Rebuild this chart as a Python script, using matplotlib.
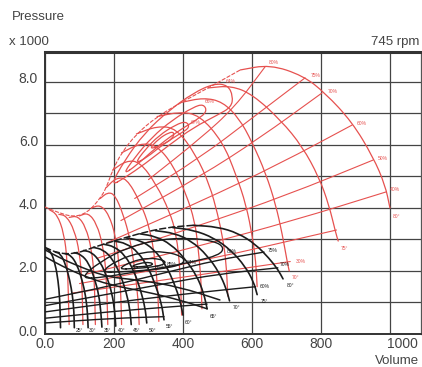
import numpy as np
import matplotlib
matplotlib.use('Agg')
import matplotlib.pyplot as plt
from matplotlib.transforms import ScaledTranslation
from matplotlib.path import Path
from matplotlib.patches import PathPatch

plt.rcParams['font.family'] = ['Liberation Sans', 'DejaVu Sans']

RED = '#e6514f'
BLACK = '#1c1c1c'

# ---- red family (upper, large fan) : blade angle curves (volume, pressure)
red_arcs = [
    [(566, 8.38), (652, 8.55), (748, 8.2), (812, 7.65), (890, 6.73), (951, 5.62), (986, 4.73), (1000, 4.0)],
    [(473, 7.81), (540, 7.88), (602, 7.6), (684, 6.78), (746, 5.95), (794, 4.98), (823, 4.1), (843, 3.2), (850, 2.95)],
    [(395, 7.35), (460, 7.5), (515, 7.37), (563, 6.84), (600, 6.1), (640, 5.1), (669, 4.1), (688, 3.16), (702, 2.3), (708, 2.0)],
    [(325, 6.9), (390, 7.05), (448, 6.95), (515, 6.1), (554, 5.05), (583, 4.1), (602, 3.05), (611, 2.3), (615, 1.5)],
    [(265, 6.35), (325, 6.6), (381, 6.53), (438, 5.68), (477, 4.74), (501, 3.79), (515, 3.05), (525, 2.3), (530, 1.2)],
    [(222, 5.75), (275, 6.05), (323, 6.0), (371, 5.37), (410, 4.42), (434, 3.58), (443, 2.84), (452, 1.8), (455, 0.8)],
    [(196, 5.2), (235, 5.5), (275, 5.47), (323, 4.74), (361, 3.89), (381, 3.16), (392, 2.0), (396, 0.6)],
    [(178, 4.65), (205, 4.95), (236, 4.95), (275, 4.21), (304, 3.37), (320, 2.3), (328, 1.2), (330, 0.4)],
    [(160, 4.3), (182, 4.5), (203, 4.42), (227, 3.79), (246, 3.05), (260, 2.1), (270, 1.1), (273, 0.3)],
    [(135, 4.0), (160, 4.1), (185, 3.8), (205, 3.1), (215, 2.2), (220, 1.2), (222, 0.3)],
    [(100, 3.75), (125, 3.85), (150, 3.5), (168, 2.8), (178, 1.9), (182, 0.3)],
    [(70, 3.7), (95, 3.75), (118, 3.4), (135, 2.7), (143, 1.8), (146, 0.3)],
    [(40, 3.8), (62, 3.75), (85, 3.3), (100, 2.6), (107, 1.7), (110, 0.3)],
    [(12, 3.95), (35, 3.8), (55, 3.2), (65, 2.3), (70, 0.3)],
]
red_arc_labels = ['80°', '75°', '70°']
red_arc_label_pos = [(1008, 3.72), (856, 2.72), (716, 1.78)]

red_stall = [(0, 4.03), (35, 3.87), (81, 3.71), (122, 3.84), (160, 4.3), (178, 4.65), (196, 5.2),
             (222, 5.75), (265, 6.35), (325, 6.9), (395, 7.35), (473, 7.81), (566, 8.38)]

red_lines = [
    [(300, 4.9), (450, 6.2), (550, 7.2), (638, 8.48)],
    [(260, 4.3), (450, 5.6), (600, 6.85), (754, 8.13)],
    [(220, 3.6), (450, 5.0), (620, 6.2), (803, 7.65)],
    [(180, 2.9), (450, 4.2), (680, 5.4), (890, 6.63)],
    [(150, 2.4), (450, 3.45), (700, 4.4), (951, 5.52)],
    [(120, 1.9), (450, 2.8), (720, 3.6), (989, 4.51)],
    [(100, 1.6), (450, 2.3), (845, 3.3)],
    [(80, 1.3), (430, 1.85), (711, 2.3)],
]
red_line_labels = ['80%', '75%', '70%', '60%', '50%', '40%', '', '30%']
red_line_label_pos = [(650, 8.62), (770, 8.2), (820, 7.7), (905, 6.68), (965, 5.58), (1000, 4.58), (0, 0), (728, 2.3)]

red_loops = [
    [(190, 4.7), (230, 5.5), (290, 6.4), (360, 7.1), (430, 7.65), (490, 7.95), (530, 7.9), (545, 7.55),
     (540, 7.2), (500, 6.95), (430, 6.55), (360, 6.0), (290, 5.4), (230, 4.95), (190, 4.7)],
    [(225, 5.05), (260, 5.6), (310, 6.25), (370, 6.8), (430, 7.2), (460, 7.3), (470, 7.05), (440, 6.8),
     (380, 6.4), (320, 5.9), (265, 5.35), (225, 5.05)],
    [(260, 5.4), (290, 5.85), (330, 6.3), (380, 6.65), (410, 6.75), (420, 6.55), (390, 6.35), (340, 6.0),
     (295, 5.6), (260, 5.4)],
    [(300, 5.85), (330, 6.2), (360, 6.4), (375, 6.4), (370, 6.2), (340, 6.0), (300, 5.85)],
]
red_loop_labels = ['64%', '66%', '67%']
red_loop_label_pos = [(525, 8.0), (462, 7.38), (422, 6.72)]

# ---- black family (lower, small fan)
black_arcs = [
    [(430, 3.45), (500, 3.4), (560, 3.2), (610, 2.85), (650, 2.4), (675, 2.05), (690, 1.75)],
    [(370, 3.38), (430, 3.3), (490, 3.05), (540, 2.65), (580, 2.15), (605, 1.65), (615, 1.25)],
    [(320, 3.28), (375, 3.2), (425, 2.95), (470, 2.5), (505, 1.95), (525, 1.45), (535, 1.05)],
    [(275, 3.18), (320, 3.1), (365, 2.85), (405, 2.4), (440, 1.85), (460, 1.3), (470, 0.8)],
    [(235, 3.05), (275, 2.98), (315, 2.7), (350, 2.2), (375, 1.6), (392, 1.05), (400, 0.6)],
    [(200, 2.95), (235, 2.88), (270, 2.6), (300, 2.1), (322, 1.5), (338, 0.95), (345, 0.45)],
    [(170, 2.85), (200, 2.78), (232, 2.5), (258, 2.0), (277, 1.4), (290, 0.85), (295, 0.35)],
    [(140, 2.75), (168, 2.68), (195, 2.4), (218, 1.9), (235, 1.35), (246, 0.8), (250, 0.3)],
    [(112, 2.65), (135, 2.6), (160, 2.3), (180, 1.8), (194, 1.3), (202, 0.75), (205, 0.25)],
    [(85, 2.58), (105, 2.52), (127, 2.25), (144, 1.75), (156, 1.25), (162, 0.7), (165, 0.22)],
    [(58, 2.55), (75, 2.5), (93, 2.2), (108, 1.7), (118, 1.2), (123, 0.7), (125, 0.2)],
    [(30, 2.6), (45, 2.55), (60, 2.2), (72, 1.7), (80, 1.2), (84, 0.7), (85, 0.2)],
    [(5, 2.7), (18, 2.6), (30, 2.2), (38, 1.7), (43, 1.1), (45, 0.2)],
]
black_arc_labels = ['80°', '75°', '70°', '65°', '60°', '55°', '50°', '45°', '40°', '35°', '30°', '25°']
black_arc_label_pos = [(700, 1.55), (625, 1.02), (545, 0.85), (478, 0.55), (405, 0.38), (350, 0.24),
                       (300, 0.12), (255, 0.12), (210, 0.12), (170, 0.12), (128, 0.12), (88, 0.12)]

black_stall = [(0, 2.75), (40, 2.55), (90, 2.55), (140, 2.75), (200, 2.95), (270, 3.18), (350, 3.38), (430, 3.45)]

# curves leaving the pressure axis and falling to the right
black_falls = [
    [(0, 2.67), (44, 2.41), (102, 2.13), (180, 1.81), (275, 1.71), (391, 1.49), (507, 1.08)],
    [(0, 2.45), (50, 2.15), (110, 1.85), (190, 1.55), (290, 1.35), (400, 1.05), (470, 0.8)],
]

black_lines = [
    [(0, 1.1), (200, 1.55), (350, 1.95), (500, 2.35), (635, 2.6)],
    [(0, 0.9), (200, 1.3), (350, 1.6), (500, 1.9), (675, 2.1)],
    [(0, 0.7), (200, 1.0), (350, 1.2), (500, 1.38), (610, 1.5)],
    [(0, 0.5), (200, 0.72), (350, 0.85), (470, 0.95)],
    [(0, 0.35), (200, 0.5), (345, 0.55)],
]
black_line_labels = ['75%', '70%', '60%', '', '']
black_line_label_pos = [(645, 2.66), (680, 2.2), (622, 1.5), (0, 0), (0, 0)]

black_loops = [
    [(100, 1.75), (160, 2.3), (240, 2.75), (330, 3.0), (420, 3.05), (490, 2.95), (520, 2.75), (505, 2.5),
     (430, 2.3), (340, 2.1), (250, 1.95), (170, 1.8), (100, 1.75)],
    [(160, 1.95), (210, 2.35), (280, 2.6), (350, 2.62), (400, 2.45), (405, 2.25), (360, 2.1), (290, 2.02),
     (220, 1.97), (160, 1.95)],
    [(210, 2.05), (250, 2.3), (300, 2.42), (345, 2.35), (350, 2.22), (310, 2.12), (260, 2.08), (210, 2.05)],
    [(245, 2.12), (275, 2.25), (305, 2.28), (315, 2.2), (290, 2.14), (245, 2.12)],
]
black_loop_labels = ['80%', '84%', '85%', '86%']
black_loop_label_pos = [(528, 2.62), (410, 2.28), (352, 2.2), (318, 2.1)]

x_ticks = [0, 200, 400, 600, 800, 1000]
x_tick_labels = ['0.0', '200', '400', '600', '800', '1000']
y_ticks = [0, 1, 2, 3, 4, 5, 6, 7, 8]
y_tick_labels = ['0.0', '', '2.0', '', '4.0', '', '6.0', '', '8.0']

fig = plt.figure(figsize=(4.22, 3.67), dpi=100)
ax = fig.add_axes([45 / 422, 1 - 334 / 367, (421 - 45) / 422, (334 - 52) / 367])
ax.set_xlim(0, 1090)
ax.set_ylim(0, 8.95)


def smooth(pts, closed=False):
    # quadratic bezier through the midpoints, the read points act as control points
    p = np.asarray(pts, float)
    if closed:
        p = p[:-1]
        mids = (p + np.roll(p, -1, axis=0)) / 2
        verts = [mids[-1]]
        codes = [Path.MOVETO]
        for i in range(len(p)):
            verts += [p[i], mids[i]]
            codes += [Path.CURVE3, Path.CURVE3]
        return Path(verts, codes)
    mids = (p[:-1] + p[1:]) / 2
    verts = [p[0], mids[0]]
    codes = [Path.MOVETO, Path.LINETO]
    for i in range(1, len(p) - 1):
        verts += [p[i], mids[i]]
        codes += [Path.CURVE3, Path.CURVE3]
    verts.append(p[-1])
    codes.append(Path.LINETO)
    return Path(verts, codes)


def draw(curves, color, lw, ls='-', closed=False):
    for c in curves:
        ax.add_patch(PathPatch(smooth(c, closed), fill=False, edgecolor=color, lw=lw,
                               ls=ls, capstyle='round', zorder=3))


def labels(texts, pos, color):
    for t, (v, p) in zip(texts, pos):
        if t:
            ax.text(v, p, t, color=color, fontsize=3.6, ha='left', va='center', zorder=5)


draw(red_arcs, RED, 0.9)
draw(red_lines, RED, 0.8)
draw(red_loops, RED, 0.9, closed=True)
draw([red_stall], RED, 0.8, ls=(0, (3, 2)))
labels(red_arc_labels, red_arc_label_pos, RED)
labels(red_line_labels, red_line_label_pos, RED)
labels(red_loop_labels, red_loop_label_pos, RED)

draw(black_arcs, BLACK, 1.2)
draw(black_falls, BLACK, 1.1)
draw(black_lines, BLACK, 1.0)
draw(black_loops, BLACK, 1.0, closed=True)
draw([black_stall], BLACK, 1.1, ls=(0, (4, 2)))
labels(black_arc_labels, black_arc_label_pos, BLACK)
labels(black_line_labels, black_line_label_pos, BLACK)
labels(black_loop_labels, black_loop_label_pos, BLACK)

ax.set_xticks(x_ticks)
ax.set_xticklabels(x_tick_labels)
ax.set_yticks(y_ticks)
ax.set_yticklabels(y_tick_labels)
ax.tick_params(length=0, labelsize=10, labelcolor='#444')
ax.tick_params(axis='x', pad=2)
ax.tick_params(axis='y', pad=5)
for lab in ax.get_yticklabels():
    lab.set_transform(lab.get_transform() + ScaledTranslation(0, 0.04, fig.dpi_scale_trans))
# the last volume label sits a little right of its grid line
ax.get_xticklabels()[-1].set_transform(ax.get_xticklabels()[-1].get_transform()
                                       + ScaledTranslation(0.12, 0, fig.dpi_scale_trans))
ax.grid(True, color='#444444', lw=0.9, zorder=1)
ax.set_axisbelow(True)
for side in ['left', 'bottom']:
    ax.spines[side].set_color('#333333')
    ax.spines[side].set_linewidth(1.4)
ax.spines['top'].set_color('#333333')
ax.spines['top'].set_linewidth(2.2)
ax.spines['right'].set_color('#555555')
ax.spines['right'].set_linewidth(0.9)

fig.text(12 / 422, 1 - 17 / 367, 'Pressure', fontsize=9.5, color='#444', va='center', ha='left')
fig.text(9 / 422, 1 - 42 / 367, 'x 1000', fontsize=9.5, color='#444', va='center', ha='left')
fig.text(419 / 422, 1 - 42 / 367, '745 rpm', fontsize=9.5, color='#444', va='center', ha='right')
fig.text(419 / 422, 1 - 361 / 367, 'Volume', fontsize=9.5, color='#444', va='center', ha='right')

fig.savefig('out.png', dpi=100)
